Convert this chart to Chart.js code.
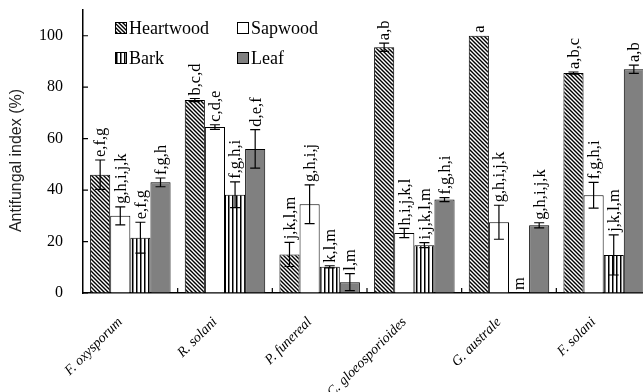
<!DOCTYPE html>
<html>
<head>
<meta charset="utf-8">
<script src="https://cdn.jsdelivr.net/npm/chart.js@4.4.1/dist/chart.umd.min.js"></script>
<style>
  html, body { margin: 0; padding: 0; overflow: hidden; background: #fff; }
</style>
</head>
<body>
<canvas id="chart" width="651" height="392"></canvas>
<script>
// fungi tested
const categories = ['F. oxysporum', 'R. solani', 'P. funereal', 'C. gloeosporioides', 'G. australe', 'F. solani'];

// antifungal index (%) per tissue
const heartwood = [46, 75, 15, 95.5, 100, 85.5];
const sapwood = [30, 64.5, 34.5, 23.3, 27.5, 38];
const bark = [21.5, 38.2, 10.2, 18.6, 0, 14.8];
const leaf = [43, 56, 4.2, 36.3, 26.3, 87];

// error bar half lengths
const heartwoodErr = [5.7, 0.6, 4.7, 1.6, 0, 0.4];
const sapwoodErr = [3.5, 0.9, 7.5, 1.8, 6.6, 5];
const barkErr = [6, 5, 0.4, 1, 0, 7.8];
const leafErr = [1.7, 7.5, 3.3, 0.8, 1, 1.6];

// significance letters
const heartwoodLetters = ['e,f,g', 'b,c,d', 'j,k,l,m', 'a,b', 'a', 'a,b,c'];
const sapwoodLetters = ['g,h,i,j,k', 'c,d,e', 'g,h,i,j', 'h,i,j,k,l', 'g,h,i,j,k', 'f,g,h,i'];
const barkLetters = ['e,f,g', 'f,g,h,i', 'k,l,m', 'i,j,k,l,m', 'm', 'j,k,l,m'];
const leafLetters = ['f,g,h', 'd,e,f', 'l,m', 'f,g,h,i', 'g,h,i,j,k', 'a,b'];

const yTitle = 'Antifungal index (%)';

const serif = '"Liberation Serif", "Times New Roman", serif';
const sans = '"Liberation Sans", Arial, sans-serif';

// diagonal hatch for heartwood
function diagonalHatch() {
  const c = document.createElement('canvas');
  c.width = 4; c.height = 4;
  const g = c.getContext('2d');
  g.fillStyle = '#fff';
  g.fillRect(0, 0, 4, 4);
  g.strokeStyle = '#000';
  g.lineWidth = 1.4;
  g.beginPath();
  g.moveTo(-1, -1); g.lineTo(5, 5);
  g.moveTo(-1, 3); g.lineTo(1, 5);
  g.moveTo(3, -1); g.lineTo(5, 1);
  g.stroke();
  return g.createPattern(c, 'repeat');
}

// vertical stripes for bark
function verticalStripes() {
  const c = document.createElement('canvas');
  c.width = 4; c.height = 4;
  const g = c.getContext('2d');
  g.fillStyle = '#fff';
  g.fillRect(0, 0, 4, 4);
  g.fillStyle = '#000';
  g.fillRect(0, 0, 1.5, 4);
  return g.createPattern(c, 'repeat');
}

const series = [
  { label: 'Heartwood', data: heartwood, err: heartwoodErr, letters: heartwoodLetters, fill: diagonalHatch() },
  { label: 'Sapwood', data: sapwood, err: sapwoodErr, letters: sapwoodLetters, fill: '#ffffff' },
  { label: 'Bark', data: bark, err: barkErr, letters: barkLetters, fill: verticalStripes() },
  { label: 'Leaf', data: leaf, err: leafErr, letters: leafLetters, fill: '#808080' },
];

const decorations = {
  id: 'decorations',
  afterDatasetsDraw(chart) {
    const { ctx, chartArea, scales: { x, y } } = chart;
    ctx.save();

    // error bars
    ctx.strokeStyle = '#000';
    ctx.lineWidth = 1.2;
    series.forEach((s, i) => {
      chart.getDatasetMeta(i).data.forEach((bar, j) => {
        const e = s.err[j];
        if (!e) return;
        const top = y.getPixelForValue(s.data[j] + e);
        const bot = y.getPixelForValue(Math.max(0, s.data[j] - e));
        ctx.beginPath();
        ctx.moveTo(bar.x, top); ctx.lineTo(bar.x, bot);
        ctx.moveTo(bar.x - 5, top); ctx.lineTo(bar.x + 5, top);
        ctx.moveTo(bar.x - 5, bot); ctx.lineTo(bar.x + 5, bot);
        ctx.stroke();
      });
    });

    // letters above bars
    ctx.fillStyle = '#000';
    ctx.font = '16.5px ' + serif;
    ctx.textAlign = 'left';
    ctx.textBaseline = 'middle';
    series.forEach((s, i) => {
      chart.getDatasetMeta(i).data.forEach((bar, j) => {
        const top = y.getPixelForValue(s.data[j] + s.err[j]);
        ctx.save();
        ctx.translate(bar.x + 1, top - 3);
        ctx.rotate(-Math.PI / 2);
        ctx.fillText(s.letters[j], 0, 0);
        ctx.restore();
      });
    });

    // inward tick marks
    ctx.lineWidth = 1.2;
    ctx.beginPath();
    for (let v = 0; v <= 100; v += 20) {
      const py = y.getPixelForValue(v);
      ctx.moveTo(chartArea.left, py); ctx.lineTo(chartArea.left + 5, py);
    }
    const step = (chartArea.right - chartArea.left) / categories.length;
    for (let k = 1; k < categories.length; k++) {
      const px = chartArea.left + k * step;
      ctx.moveTo(px, chartArea.bottom); ctx.lineTo(px, chartArea.bottom - 5);
    }
    ctx.stroke();

    // y axis title
    ctx.save();
    ctx.fillStyle = '#222';
    ctx.font = '16px ' + sans;
    ctx.textAlign = 'center';
    ctx.textBaseline = 'middle';
    ctx.translate(17, (chartArea.top + chartArea.bottom) / 2 + 9);
    ctx.rotate(-Math.PI / 2);
    ctx.fillText(yTitle, 0, 0);
    ctx.restore();

    // legend, 2 x 2
    ctx.font = '18px ' + serif;
    ctx.textAlign = 'left';
    ctx.textBaseline = 'middle';
    series.forEach((s, i) => {
      const bx = chartArea.left + 32 + (i % 2) * 122;
      const by = chartArea.top + 18 + Math.floor(i / 2) * 30;
      ctx.fillStyle = s.fill;
      ctx.fillRect(bx, by - 6, 12, 12);
      ctx.strokeStyle = '#000';
      ctx.lineWidth = 1;
      ctx.strokeRect(bx + 0.5, by - 5.5, 11, 11);
      ctx.fillStyle = '#000';
      ctx.fillText(s.label, bx + 14, by + 1);
    });

    ctx.restore();
  }
};

new Chart(document.getElementById('chart'), {
  type: 'bar',
  data: {
    labels: categories,
    datasets: series.map(s => ({
      label: s.label,
      data: s.data,
      backgroundColor: s.fill,
      borderColor: '#000',
      borderWidth: 1,
      categoryPercentage: 0.85,
      barPercentage: 1,
    })),
  },
  options: {
    responsive: false,
    animation: false,
    layout: { padding: { top: 10, left: 0, right: 0, bottom: 0 } },
    plugins: {
      legend: { display: false },
      tooltip: { enabled: false },
    },
    scales: {
      x: {
        afterFit(scale) { scale.height = 99; },
        grid: { display: true, drawOnChartArea: false, drawTicks: false },
        border: { display: true, color: '#000', width: 1.5 },
        ticks: {
          autoSkip: false,
          minRotation: 45,
          maxRotation: 45,
          padding: 21,
          labelOffset: -10,
          color: '#000',
          font: { family: serif, size: 14, style: 'italic' },
        },
      },
      y: {
        min: 0,
        max: 110,
        afterFit(scale) {
          scale.width = 83;
          scale.paddingTop = 0;
          scale.paddingBottom = 0;
        },
        grid: { display: true, drawOnChartArea: false, drawTicks: false },
        border: { display: true, color: '#000', width: 1.5 },
        ticks: {
          stepSize: 20,
          includeBounds: false,
          padding: 20,
          color: '#000',
          font: { family: serif, size: 16 },
        },
      },
    },
  },
  plugins: [decorations],
});
</script>
</body>
</html>
